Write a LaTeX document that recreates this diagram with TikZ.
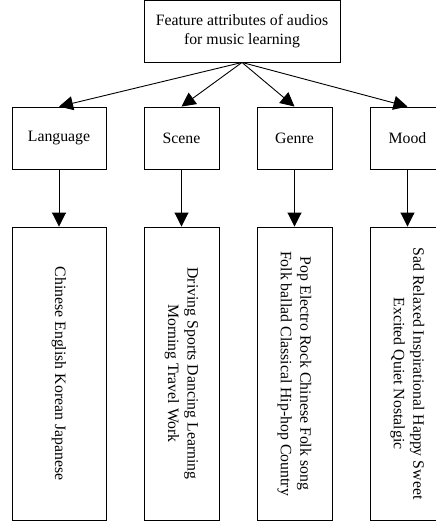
\documentclass[tikz,border=0pt]{standalone}
\usepackage{fontspec}
\setmainfont{Liberation Serif}
\usetikzlibrary{arrows.meta}

\begin{document}
\begin{tikzpicture}[x=1pt, y=1pt, line width=0.9pt,
    every node/.style={font=\fontsize{15.8}{19.5}\selectfont},
    box/.style={draw, align=center, inner sep=0pt},
    arr/.style={-{Triangle[length=14pt, width=14pt]}}]
    % Page frame
    \useasboundingbox (0,0) rectangle (436,-522);
    % Root
    \node[box, minimum width=196pt, minimum height=62pt] (feat) at (242,-31)
        {Feature attributes of audios\\for music learning};
    % Attribute boxes
    \foreach \n/\x/\w/\t in {lang/59/94/Language, scene/181.5/75/Scene,
                             genre/294.5/75/Genre, mood/407.5/75/Mood}
    {
        \node[box, minimum width=\w pt, minimum height=62pt] (\n) at (\x,-138) {\t};
        \draw[arr] (feat.south) -- (\n.north);
    }
    % Value boxes (text runs downward)
    \node[box, rotate=-90, minimum width=293pt, minimum height=94pt] (langV) at (59,-373.5)
        {Chinese English Korean Japanese};
    \node[box, rotate=-90, minimum width=293pt, minimum height=75pt] (sceneV) at (181.5,-373.5)
        {Driving Sports Dancing Learning\\Morning Travel Work};
    \node[box, rotate=-90, minimum width=293pt, minimum height=75pt] (genreV) at (294.5,-373.5)
        {Pop Electro Rock Chinese Folk song\\Folk ballad Classical Hip-hop Country};
    \node[box, rotate=-90, minimum width=293pt, minimum height=75pt] (moodV) at (407.5,-373.5)
        {Sad Relaxed Inspirational Happy Sweet\\Excited Quiet Nostalgic};
    % Down arrows
    \foreach \n in {lang, scene, genre, mood}
    {
        \draw[arr] (\n) -- (\n V);
    }
\end{tikzpicture}
\end{document}
